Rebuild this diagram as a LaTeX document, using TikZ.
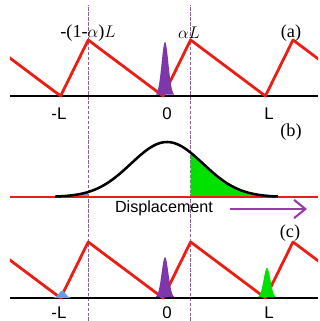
\documentclass[tikz,border=0pt]{standalone}
\usepackage{fontspec}
\setmainfont{Liberation Serif}
\setsansfont{Liberation Sans}
\usepackage{tikz}
\usetikzlibrary{arrows.meta}
\definecolor{SawRed}{RGB}{235,30,20}
\definecolor{PeakPurple}{RGB}{125,55,170}
\definecolor{PeakGreen}{RGB}{0,225,0}
\definecolor{PeakBlue}{RGB}{95,160,230}
\definecolor{ArrowPurple}{RGB}{150,60,165}
\definecolor{GuideViolet}{RGB}{140,95,155}

\begin{document}
\begin{tikzpicture}[
      saw/.style={draw=SawRed, line width=2pt, line join=round},
      base/.style={draw=black, line width=1.4pt},
      guide/.style={draw=GuideViolet, dash pattern=on 2.5pt off 1pt, line width=0.8pt},
      plbl/.style={font=\fontsize{13}{15}\selectfont},
      axlbl/.style={font=\sffamily\fontsize{12}{14}\selectfont}
    ]
    \useasboundingbox (-4.075,0) rectangle (3.925,8.025);

    % guides at -(1-alpha)L and alpha L
    \foreach \x in {-1.87, 0.69}{
      \draw[guide] (\x,0) -- (\x,7.9);
    }

    % panels (a) and (c): potential
    \foreach \y in {5.625, 0.575}{
      \draw[base] (-3.825,\y) -- (3.875,\y);
      \begin{scope}
        \clip (-3.825,\y-0.2) rectangle (3.875,\y+1.7);
        \draw[saw] (-4.43,\y+1.4) -- (-2.56,\y) -- (-1.87,\y+1.4) -- (0,\y)
          -- (0.69,\y+1.4) -- (2.56,\y) -- (3.25,\y+1.4) -- (5.12,\y);
      \end{scope}
    }

    % narrow peaks
    \foreach \cx/\cy/\ht/\col in {0.05/5.625/1.35/PeakPurple, 0.05/0.575/1.02/PeakPurple,
                                  2.6/0.575/0.75/PeakGreen, -2.52/0.575/0.18/PeakBlue}{
      \fill[\col, domain=-0.23:0.23, samples=40, smooth]
        plot ({\cx+\x}, {\cy+\ht*exp(-((\x)^2)/0.0145)}) -- cycle;
    }

    % panel (b): spread of displacements
    \fill[PeakGreen, domain=0.69:2.875, samples=40]
      (0.69,3.1) -- plot (\x, {3.1+1.375*exp(-((\x-0.1)^2)/1.62)}) -- (2.875,3.1) -- cycle;
    \fill[PeakBlue, domain=-2.7:-1.87, samples=20]
      (-2.7,3.1) -- plot (\x, {3.1+1.375*exp(-((\x-0.1)^2)/1.62)}) -- (-1.87,3.1) -- cycle;
    \draw[SawRed, line width=1.2pt] (-3.825,3.1) -- (3.875,3.1);
    \draw[black, line width=1.8pt, domain=-2.7:2.875, samples=80, smooth]
      plot (\x, {3.1+1.375*exp(-((\x-0.1)^2)/1.62)});

    \node[plbl] (lblneg) at (-1.875,7.2) {-(1-$\alpha$)$L$};
    \node[plbl] (lblpos) at (0.65,7.2)   {$\alpha L$};
    \node[plbl] (lbla)   at (3.2,7.2)    {(a)};
    \node[plbl] (lblb)   at (3.2,4.725)  {(b)};
    \node[plbl] (lblc)   at (3.175,2.2)  {(c)};

    \foreach \x/\t/\n in {-2.6/-L/mL, 0.1/0/z, 2.65/L/pL}{
      \node[axlbl] (a\n) at (\x,5.175) {\t};
      \node[axlbl] (c\n) at (\x,0.2)   {\t};
    }

    \node[font=\sffamily\fontsize{11.5}{13}\selectfont] (disp) at (0.025,2.825) {Displacement};
    \coordinate (dirstart) at ([xshift=0.3cm]disp.east);
    \coordinate (dirend)   at (3.6,2.8);
    \draw[ArrowPurple, line width=1.5pt, -{Straight Barb[length=8pt, width=13pt]}]
      (dirstart |- dirend) -- (dirend);
  \end{tikzpicture}
\end{document}
